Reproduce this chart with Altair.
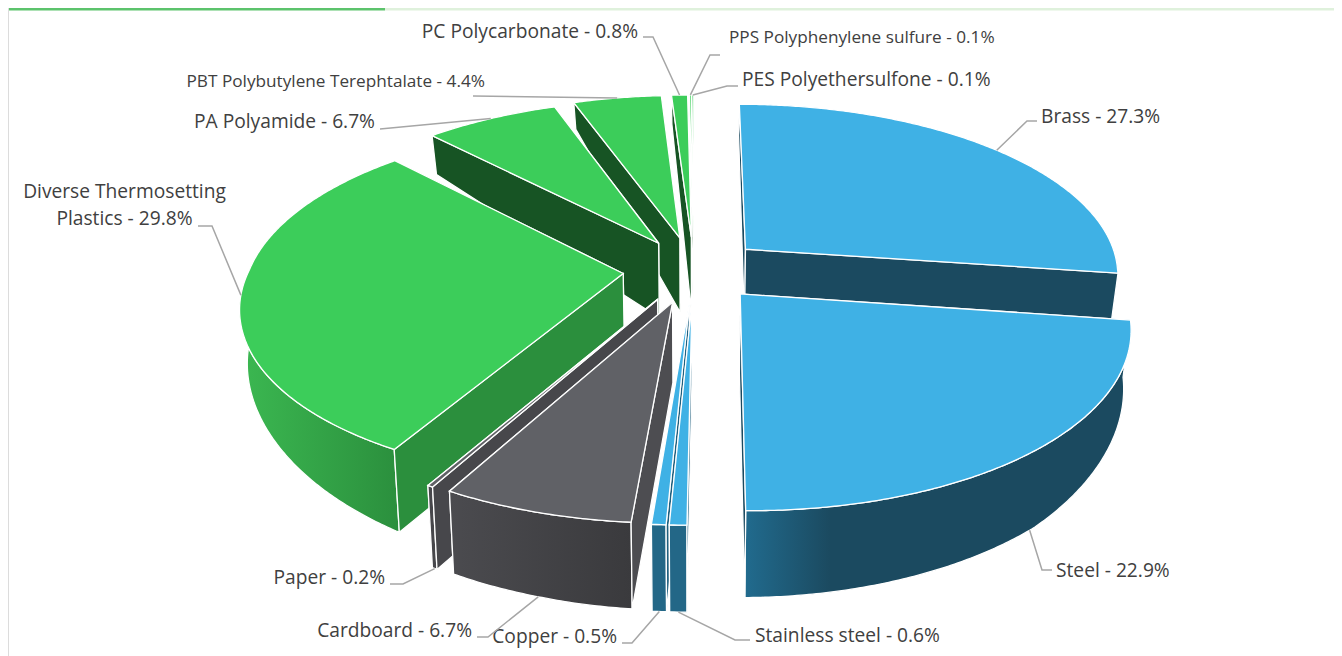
import numpy as np
import pandas as pd
import altair as alt

# ---- chart values -----------------------------------------------------------
names = ["Brass", "Steel", "Stainless steel", "Copper", "Cardboard", "Paper",
         "Diverse Thermosetting Plastics", "PA Polyamide", "PBT Polybutylene Terephtalate",
         "PC Polycarbonate", "PPS Polyphenylene sulfure", "PES Polyethersulfone"]
shares = [27.3, 22.9, 0.6, 0.5, 6.7, 0.2, 29.8, 6.7, 4.4, 0.8, 0.1, 0.1]
families = ["metal", "metal", "metal", "metal", "fibre", "fibre",
            "plastic", "plastic", "plastic", "plastic", "plastic", "plastic"]

# ---- style and layout (not data) --------------------------------------------
explode = {"Brass": 0.185, "Steel": 0.185, "Diverse Thermosetting Plastics": 0.19, "PA Polyamide": 0.185}
explode_default = 0.195
paint_order = ["PES Polyethersulfone", "PPS Polyphenylene sulfure", "PC Polycarbonate",
               "PBT Polybutylene Terephtalate", "PA Polyamide", "Brass",
               "Diverse Thermosetting Plastics", "Paper", "Cardboard", "Steel",
               "Copper", "Stainless steel"]
top_colors = {"metal": "#3fb1e5", "fibre": "#606166", "plastic": "#3ccd5a"}
cut_colors = {"Brass": "#1b4a60", "Steel": "#1b4a60", "Stainless steel": "#1f5f7e", "Copper": "#1f5f7e",
              "Cardboard": "#4d4d51", "Paper": "#47474b", "Diverse Thermosetting Plastics": "#2b8f3d",
              "PA Polyamide": "#175424", "PBT Polybutylene Terephtalate": "#175424",
              "PC Polycarbonate": "#175424", "PPS Polyphenylene sulfure": "#175424",
              "PES Polyethersulfone": "#175424"}


def grad(*stops):
    return alt.LinearGradient(gradient="linear", x1=0, x2=1, y1=0, y2=0,
                              stops=[alt.GradientStop(offset=o, color=c) for o, c in stops])


wall_fill = {"Steel": grad((0, "#216b8e"), (0.22, "#1b4a60"), (1, "#1b4a60")),
             "Diverse Thermosetting Plastics": grad((0, "#3bb851"), (1, "#2b8f3d")),
             "Cardboard": grad((0, "#4b4b4f"), (1, "#3a3a3d")),
             "Stainless steel": "#236787", "Copper": "#236787", "Paper": "#47474b"}
label_layout = {
    "Brass": (1041, 117, "left", 19.2, [(1027, 121), (1037, 121)], "top"),
    "Steel": (1056, 571, "left", 19.2, [(1042, 570), (1052, 570)], "bottom"),
    "Stainless steel": (755, 636, "left", 19.2, [(735, 640), (750, 640)], "bottom"),
    "Copper": (617, 637, "right", 19.2, [(632, 643), (622, 643)], "bottom"),
    "Cardboard": (472, 631, "right", 19.2, [(488, 637), (477, 637)], "bottom"),
    "Paper": (385, 578, "right", 19.2, [(403, 584), (390, 584)], "bottom"),
    "Diverse Thermosetting Plastics": (124.5, 192, "center", 19.2, [(212, 226), (198, 226)], "top"),
    "PA Polyamide": (375, 122, "right", 19.2, [(380, 129)], "top"),
    "PBT Polybutylene Terephtalate": (485, 82, "right", 17.2, [(473, 96)], "top"),
    "PC Polycarbonate": (638, 32, "right", 19.2, [(653, 37), (643, 37)], "top"),
    "PPS Polyphenylene sulfure": (729, 38, "left", 17.2, [(710, 55), (720, 55)], "top"),
    "PES Polyethersulfone": (742, 80, "left", 19.2, [(727, 86), (738, 86)], "top"),
}
FONT = "Open Sans"
X_DOM = [8, 1334]
Y_DOM = [656, 8]
CX = 694


# ---- projection: pie plane -> picture ---------------------------------------
def top_xy(X, Y):
    X, Y = np.asarray(X, float), np.asarray(Y, float)
    k = np.where(Y > 0, 0.137, 0.172)
    w = 1 + k * Y
    return CX + 374 * X / w, 269.5 - 170 * Y / w


def bottom_xy(X, Y):
    x, y = top_xy(X, Y)
    d = np.interp(Y, [-1.15, -0.89, 0.2, 0.89, 1.14], [87, 92, 74, 51, 29]) - 20 * np.asarray(X, float) ** 2
    return CX + (x - CX) * 0.983, y + d


def rim(a, s):
    a = np.radians(a)
    return s[0] + np.sin(a), s[1] + np.cos(a)


total = sum(shares)
edges = np.cumsum([0] + shares) / total * 360
slices = {}
for i, n in enumerate(names):
    a0, a1 = edges[i], edges[i + 1]
    mid = np.radians((a0 + a1) / 2)
    e = explode.get(n, explode_default)
    slices[n] = dict(a0=a0, a1=a1, apex=(e * np.sin(mid), e * np.cos(mid)), fam=families[i])


def poly(xs, ys, fill, sw=1.3):
    d = pd.DataFrame({"x": np.round(xs, 2), "y": np.round(ys, 2), "i": np.arange(len(xs))})
    return alt.Chart(d).mark_line(interpolate="linear-closed", fill=fill, stroke="white",
                                  strokeWidth=sw, strokeJoin="miter").encode(
        x=alt.X("x:Q", scale=alt.Scale(domain=X_DOM), axis=None),
        y=alt.Y("y:Q", scale=alt.Scale(domain=Y_DOM), axis=None),
        order=alt.Order("i:Q"),
    )


def cut_wall(n, a):
    ap = slices[n]["apex"]
    rx, ry = rim(a, ap)
    p = [top_xy(ap[0], ap[1]), top_xy(rx, ry), bottom_xy(rx, ry), bottom_xy(ap[0], ap[1])]
    return poly([q[0] for q in p], [q[1] for q in p], cut_colors[n])


layers = []
for n in paint_order:
    s = slices[n]
    ap = s["apex"]
    # the cut face that looks toward the viewer goes over the rim wall, the other under it
    right_side = (s["a0"] + s["a1"]) / 2 < 180
    back, front = (s["a0"], s["a1"]) if right_side else (s["a1"], s["a0"])
    layers.append(cut_wall(n, back))
    lo, hi = max(s["a0"], 90), min(s["a1"], 270)
    if hi > lo:
        aa = np.linspace(lo, hi, max(2, int((hi - lo) * 2) + 1))
        rx, ry = rim(aa, ap)
        tx, ty = top_xy(rx, ry)
        bx, by = bottom_xy(rx, ry)
        layers.append(poly(np.r_[tx, bx[::-1]], np.r_[ty, by[::-1]], wall_fill.get(n, "#1b4a60")))
    layers.append(cut_wall(n, front))
    aa = np.linspace(s["a0"], s["a1"], max(2, int((s["a1"] - s["a0"]) * 2) + 1))
    rx, ry = rim(aa, ap)
    tx, ty = top_xy(np.r_[ap[0], rx], np.r_[ap[1], ry])
    layers.append(poly(tx, ty, top_colors[s["fam"]]))

# leaders and labels
for i, n in enumerate(names):
    s = slices[n]
    lx, ly, align, size, bends, plane = label_layout[n]
    rx, ry = rim((s["a0"] + s["a1"]) / 2, s["apex"])
    sx, sy = (top_xy if plane == "top" else bottom_xy)(rx, ry)
    pts = [(float(sx), float(sy))] + bends
    d = pd.DataFrame({"x": [p[0] for p in pts], "y": [p[1] for p in pts], "i": range(len(pts))})
    layers.append(alt.Chart(d).mark_line(color="#a6a6a6", strokeWidth=1.5).encode(
        x=alt.X("x:Q", scale=alt.Scale(domain=X_DOM), axis=None),
        y=alt.Y("y:Q", scale=alt.Scale(domain=Y_DOM), axis=None),
        order=alt.Order("i:Q")))
    text = f"{n} - {shares[i]}%"
    rows = [(lx, ly, text)]
    if n.startswith("Diverse"):
        rows = [(lx, ly, "Diverse Thermosetting"), (lx, ly + 27, f"Plastics - {shares[i]}%")]
    td = pd.DataFrame(rows, columns=["x", "y", "t"])
    layers.append(alt.Chart(td).mark_text(font=FONT, fontSize=size, align=align, baseline="middle",
                                          color="#404040").encode(
        x=alt.X("x:Q", scale=alt.Scale(domain=X_DOM), axis=None),
        y=alt.Y("y:Q", scale=alt.Scale(domain=Y_DOM), axis=None),
        text="t:N"))

# page chrome
layers.append(alt.Chart(pd.DataFrame({"a": [0]})).mark_rule(color="#dff1dc", strokeWidth=3).encode(
    x=alt.value(377), x2=alt.value(1326), y=alt.value(1)))
layers.append(alt.Chart(pd.DataFrame({"a": [0]})).mark_rule(color="#5cc36c", strokeWidth=3).encode(
    x=alt.value(0), x2=alt.value(377), y=alt.value(1)))
layers.append(alt.Chart(pd.DataFrame({"a": [0]})).mark_rule(color="#dcdcdc", strokeWidth=2).encode(
    x=alt.value(0), y=alt.value(0), y2=alt.value(648)))

chart = alt.layer(*layers).properties(
    width=1326, height=648, padding=0, autosize=alt.AutoSizeParams(type="none")
).configure_view(stroke=None).configure(background="white")

chart.save("out.html", embed_options={"renderer": "svg", "actions": False})
